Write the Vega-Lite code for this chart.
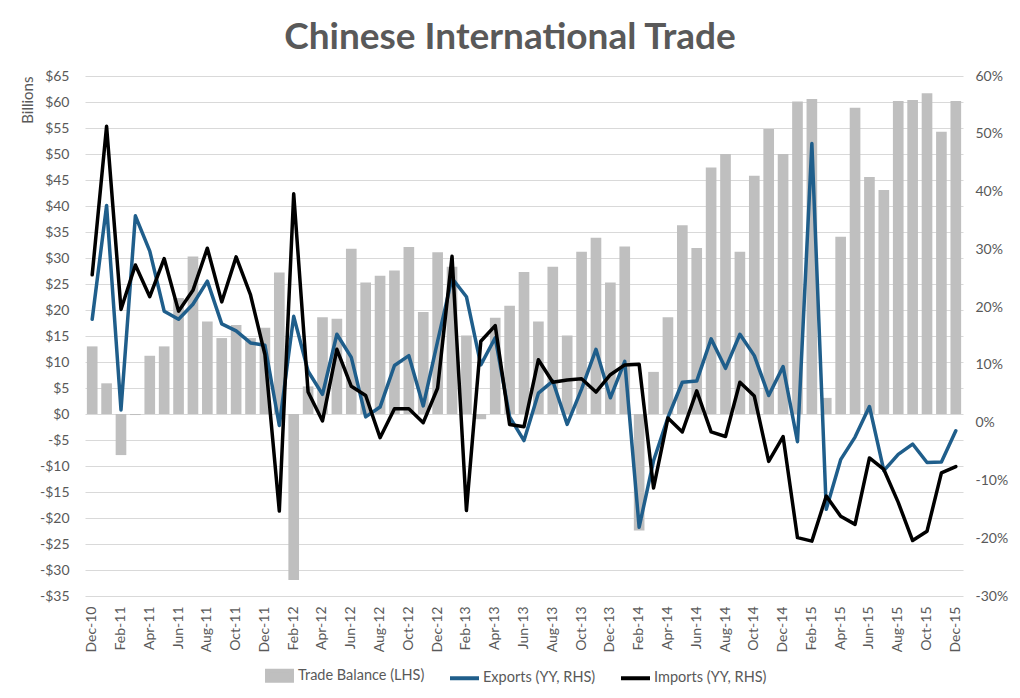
{
  "$schema": "https://vega.github.io/schema/vega-lite/v6.json",
  "width": 878,
  "height": 520,
  "autosize": {"type": "none"},
  "padding": {"left": 85, "top": 76, "right": 57, "bottom": 102},
  "background": "white",
  "config": {
    "view": {"stroke": null},
    "font": "Lato",
    "axis": {"labelFont": "Lato", "labelFontSize": 14, "labelColor": "#595959", "titleFont": "Lato", "titleColor": "#595959"},
    "legend": {"labelFont": "Lato", "labelFontSize": 14, "labelColor": "#595959"}
  },
  "title": {
    "text": "Chinese International Trade",
    "font": "Lato",
    "fontSize": 37,
    "fontWeight": "bold",
    "color": "#595959",
    "anchor": "middle",
    "offset": 12,
    "dx": -14
  },
  "data": {
    "values": [
      {"month": "Dec-10", "balance": 13.0, "exports": 17.9, "imports": 25.6},
      {"month": "Jan-11", "balance": 5.9, "exports": 37.6, "imports": 51.3},
      {"month": "Feb-11", "balance": -7.9, "exports": 2.2, "imports": 19.6},
      {"month": "Mar-11", "balance": -0.2, "exports": 35.8, "imports": 27.3},
      {"month": "Apr-11", "balance": 11.2, "exports": 29.7, "imports": 21.8},
      {"month": "May-11", "balance": 13.0, "exports": 19.3, "imports": 28.4},
      {"month": "Jun-11", "balance": 22.3, "exports": 17.9, "imports": 19.3},
      {"month": "Jul-11", "balance": 30.3, "exports": 20.5, "imports": 22.9},
      {"month": "Aug-11", "balance": 17.8, "exports": 24.5, "imports": 30.2},
      {"month": "Sep-11", "balance": 14.6, "exports": 17.1, "imports": 20.9},
      {"month": "Oct-11", "balance": 17.1, "exports": 15.9, "imports": 28.7},
      {"month": "Nov-11", "balance": 14.6, "exports": 13.8, "imports": 22.1},
      {"month": "Dec-11", "balance": 16.6, "exports": 13.4, "imports": 11.8},
      {"month": "Jan-12", "balance": 27.2, "exports": -0.5, "imports": -15.3},
      {"month": "Feb-12", "balance": -31.9, "exports": 18.4, "imports": 39.6},
      {"month": "Mar-12", "balance": 5.3, "exports": 8.9, "imports": 5.3},
      {"month": "Apr-12", "balance": 18.6, "exports": 4.9, "imports": 0.3},
      {"month": "May-12", "balance": 18.3, "exports": 15.3, "imports": 12.7},
      {"month": "Jun-12", "balance": 31.8, "exports": 11.3, "imports": 6.3},
      {"month": "Jul-12", "balance": 25.3, "exports": 1.0, "imports": 4.7},
      {"month": "Aug-12", "balance": 26.6, "exports": 2.7, "imports": -2.6},
      {"month": "Sep-12", "balance": 27.6, "exports": 9.9, "imports": 2.4},
      {"month": "Oct-12", "balance": 32.1, "exports": 11.6, "imports": 2.4},
      {"month": "Nov-12", "balance": 19.6, "exports": 2.9, "imports": 0.0},
      {"month": "Dec-12", "balance": 31.1, "exports": 14.1, "imports": 6.0},
      {"month": "Jan-13", "balance": 28.3, "exports": 25.0, "imports": 28.8},
      {"month": "Feb-13", "balance": 15.1, "exports": 21.8, "imports": -15.2},
      {"month": "Mar-13", "balance": -1.0, "exports": 10.0, "imports": 14.1},
      {"month": "Apr-13", "balance": 18.5, "exports": 14.7, "imports": 16.8},
      {"month": "May-13", "balance": 20.8, "exports": 1.0, "imports": -0.3},
      {"month": "Jun-13", "balance": 27.3, "exports": -3.1, "imports": -0.7},
      {"month": "Jul-13", "balance": 17.8, "exports": 5.1, "imports": 10.9},
      {"month": "Aug-13", "balance": 28.3, "exports": 7.2, "imports": 7.0},
      {"month": "Sep-13", "balance": 15.1, "exports": -0.3, "imports": 7.4},
      {"month": "Oct-13", "balance": 31.2, "exports": 5.8, "imports": 7.6},
      {"month": "Nov-13", "balance": 33.9, "exports": 12.7, "imports": 5.3},
      {"month": "Dec-13", "balance": 25.3, "exports": 4.3, "imports": 8.3},
      {"month": "Jan-14", "balance": 32.2, "exports": 10.6, "imports": 10.0},
      {"month": "Feb-14", "balance": -22.4, "exports": -18.1, "imports": 10.1},
      {"month": "Mar-14", "balance": 8.1, "exports": -6.6, "imports": -11.3},
      {"month": "Apr-14", "balance": 18.6, "exports": 0.9, "imports": 0.8},
      {"month": "May-14", "balance": 36.3, "exports": 7.0, "imports": -1.6},
      {"month": "Jun-14", "balance": 31.9, "exports": 7.2, "imports": 5.5},
      {"month": "Jul-14", "balance": 47.4, "exports": 14.5, "imports": -1.6},
      {"month": "Aug-14", "balance": 50.0, "exports": 9.4, "imports": -2.4},
      {"month": "Sep-14", "balance": 31.2, "exports": 15.3, "imports": 7.0},
      {"month": "Oct-14", "balance": 45.8, "exports": 11.6, "imports": 4.6},
      {"month": "Nov-14", "balance": 54.8, "exports": 4.7, "imports": -6.7},
      {"month": "Dec-14", "balance": 50.0, "exports": 9.7, "imports": -2.4},
      {"month": "Jan-15", "balance": 60.1, "exports": -3.3, "imports": -19.9},
      {"month": "Feb-15", "balance": 60.6, "exports": 48.3, "imports": -20.5},
      {"month": "Mar-15", "balance": 3.1, "exports": -15.0, "imports": -12.7},
      {"month": "Apr-15", "balance": 34.1, "exports": -6.4, "imports": -16.2},
      {"month": "May-15", "balance": 58.9, "exports": -2.5, "imports": -17.6},
      {"month": "Jun-15", "balance": 45.6, "exports": 2.8, "imports": -6.1},
      {"month": "Jul-15", "balance": 43.1, "exports": -8.3, "imports": -8.1},
      {"month": "Aug-15", "balance": 60.2, "exports": -5.5, "imports": -13.8},
      {"month": "Sep-15", "balance": 60.4, "exports": -3.7, "imports": -20.4},
      {"month": "Oct-15", "balance": 61.7, "exports": -6.9, "imports": -18.8},
      {"month": "Nov-15", "balance": 54.3, "exports": -6.8, "imports": -8.7},
      {"month": "Dec-15", "balance": 60.2, "exports": -1.4, "imports": -7.6}
    ]
  },
  "encoding": {
    "x": {
      "field": "month",
      "type": "ordinal",
      "sort": null,
      "scale": {"paddingInner": 0.26, "paddingOuter": 0.13},
      "axis": {
        "title": null,
        "labelAngle": -90,
        "labelExpr": "test(/^(Dec|Feb|Apr|Jun|Aug|Oct)/, datum.value) ? datum.value : ''",
        "ticks": false,
        "domain": false,
        "labelPadding": 10
      }
    }
  },
  "layer": [
    {
      "mark": {"type": "bar"},
      "encoding": {
        "y": {
          "field": "balance",
          "type": "quantitative",
          "scale": {"domain": [-35, 65], "nice": false},
          "axis": {
            "title": "Billions",
            "titleAnchor": "end",
            "titleFontSize": 15,
            "titleFontWeight": "normal",
            "titlePadding": 4,
            "values": [-35, -30, -25, -20, -15, -10, -5, 0, 5, 10, 15, 20, 25, 30, 35, 40, 45, 50, 55, 60, 65],
            "labelExpr": "datum.value < 0 ? '-$' + abs(datum.value) : '$' + datum.value",
            "grid": true,
            "gridColor": "#D9D9D9",
            "gridWidth": 1,
            "ticks": false,
            "domain": false,
            "labelPadding": 16
          }
        },
        "color": {
          "datum": "balance",
          "type": "nominal",
          "scale": {"domain": ["balance", "exports", "imports"], "range": ["#BFBFBF", "#1F5E8B", "#000000"]},
          "legend": {
            "title": null,
            "orient": "none",
            "legendX": 178,
            "legendY": 583,
            "direction": "horizontal",
            "symbolSize": 841,
            "labelOffset": 2,
            "labelFontSize": 14.5,
            "columnPadding": 17,
            "labelExpr": "datum.value === 'balance' ? 'Trade Balance (LHS)' : datum.value === 'exports' ? 'Exports (YY, RHS)' : 'Imports (YY, RHS)'",
            "encode": {
              "symbols": {
                "update": {
                  "shape": {"signal": "datum.value === 'balance' ? 'M-0.86,-0.34H0.86V0.34H-0.86Z' : 'M-1,0H1'"},
                  "fill": {"signal": "datum.value === 'balance' ? '#BFBFBF' : 'transparent'"},
                  "stroke": {"signal": "datum.value === 'balance' ? 'transparent' : datum.value === 'exports' ? '#1F5E8B' : '#000000'"},
                  "strokeWidth": {"value": 4},
                  "opacity": {"value": 1}
                }
              }
            }
          }
        }
      }
    },
    {
      "transform": [{"fold": ["exports", "imports"], "as": ["series", "value"]}],
      "mark": {"type": "line", "strokeWidth": 3.5, "strokeJoin": "round", "strokeCap": "round"},
      "encoding": {
        "y": {
          "field": "value",
          "type": "quantitative",
          "scale": {"domain": [-30, 60], "nice": false},
          "axis": {
            "orient": "right",
            "title": null,
            "values": [-30, -20, -10, 0, 10, 20, 30, 40, 50, 60],
            "labelExpr": "datum.value + '%'",
            "grid": false,
            "ticks": false,
            "domain": false,
            "labelPadding": 12
          }
        },
        "color": {
          "field": "series",
          "type": "nominal",
          "legend": {
            "title": null,
            "orient": "none",
            "legendX": 178,
            "legendY": 583,
            "direction": "horizontal",
            "symbolSize": 841,
            "labelOffset": 2,
            "labelFontSize": 14.5,
            "columnPadding": 17
          }
        }
      }
    }
  ],
  "resolve": {"scale": {"y": "independent"}, "axis": {"y": "independent"}}
}
